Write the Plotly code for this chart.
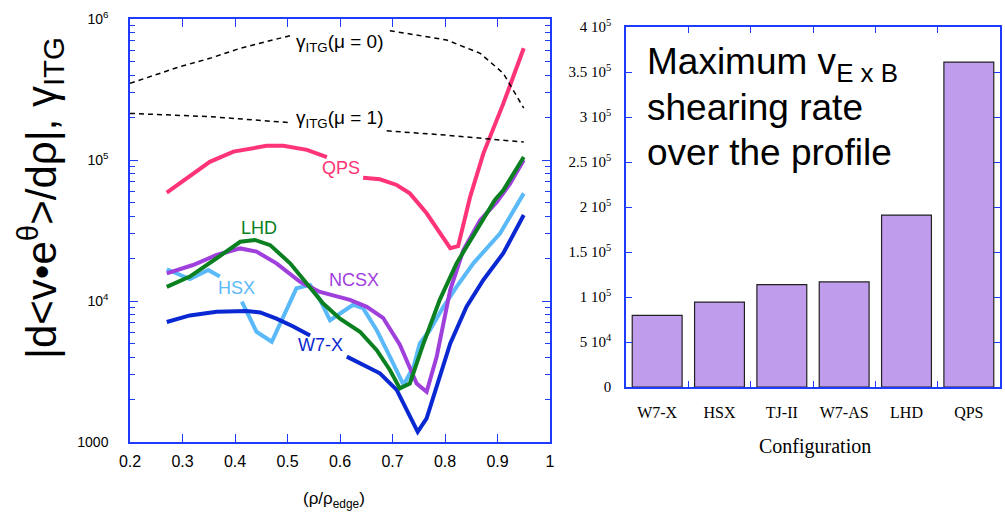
import plotly.graph_objects as go

# ---------------- data: left panel (shear-rate profiles) ----------------
qps_x = [0.27, 0.30, 0.352, 0.397, 0.46, 0.492, 0.537, 0.575, None, 0.644, 0.676, 0.708, 0.733, 0.765, 0.79, 0.81, 0.825, 0.848, 0.873, 0.911, 0.95]
qps_y = [58600, 70000, 97000, 114600, 126000, 126000, 118000, 105000, None, 74800, 73000, 66500, 58000, 41900, 30200, 23700, 24500, 55000, 111000, 251000, 620000]

lhd_x = [0.27, 0.314, 0.365, 0.41, 0.438, 0.467, 0.505, 0.537, 0.568, 0.60, 0.638, 0.67, 0.695, 0.714, 0.733, 0.759, 0.79, 0.822, 0.86, 0.895, 0.911, 0.95]
lhd_y = [12600, 14900, 20100, 26300, 27100, 24900, 18500, 13400, 9600, 7500, 6050, 4480, 3240, 2400, 2600, 5000, 10200, 18500, 31900, 52000, 61000, 105000]

ncsx_x = [0.27, 0.32, 0.365, 0.41, 0.441, 0.479, 0.524, 0.562, 0.619, 0.651, 0.682, 0.714, 0.746, 0.765, 0.784, 0.81, 0.835, 0.867, 0.898, 0.924, 0.95]
ncsx_y = [15700, 18000, 21200, 23600, 22400, 18500, 13700, 11600, 10200, 9100, 7600, 4900, 2600, 2270, 4000, 12000, 23000, 37500, 50000, 68000, 100000]

hsx_x = [0.27, 0.314, 0.349, 0.371, None, 0.413, 0.441, 0.47, 0.517, 0.543, 0.562, 0.581, 0.60, 0.625, 0.644, 0.67, 0.695, 0.721, 0.74, 0.752, 0.771, 0.797, 0.822, 0.854, 0.905, 0.95]
hsx_y = [16800, 14300, 16600, 14900, None, 9900, 6050, 5140, 12300, 13000, 10200, 7300, 8200, 9400, 8900, 6200, 4030, 2540, 3420, 5000, 6200, 9100, 12600, 18500, 30200, 58000]

w7x_x = [0.27, 0.314, 0.365, 0.422, 0.448, 0.479, 0.511, 0.543, None, 0.613, 0.638, 0.676, 0.708, 0.727, 0.748, 0.765, 0.784, 0.81, 0.841, 0.873, 0.911, 0.95]
w7x_y = [7100, 7900, 8400, 8500, 8300, 7500, 6600, 5700, None, 4030, 3600, 3070, 2340, 1690, 1180, 1470, 2470, 5000, 9100, 14100, 21800, 40700]

itg0_x = [0.2, 0.295, 0.352, 0.41, 0.505, None, 0.695, 0.803, 0.867, 0.911, 0.95]
itg0_y = [350000, 459000, 526000, 620000, 762000, None, 826000, 710000, 571000, 412000, 233000]

itg1_x = [0.2, 0.352, 0.505, None, 0.689, 0.803, 0.95]
itg1_y = [214000, 203000, 184000, None, 161000, 150000, 134000]

x_ticks = [0.2, 0.3, 0.4, 0.5, 0.6, 0.7, 0.8, 0.9, 1.0]
x_ticklabels = ["0.2", "0.3", "0.4", "0.5", "0.6", "0.7", "0.8", "0.9", "1"]
y_ticks = [1e3, 1e4, 1e5, 1e6]
y_ticklabels = ["1000", "10<sup>4</sup>", "10<sup>5</sup>", "10<sup>6</sup>"]

# ---------------- data: right panel (max shearing rate) ----------------
configs = ["W7-X", "HSX", "TJ-II", "W7-AS", "LHD", "QPS"]
max_shear = [79600, 94400, 113700, 116700, 191000, 361000]
bar_yticks = [0, 50000, 100000, 150000, 200000, 250000, 300000, 350000, 400000]
bar_yticklabels = ["0", "5 10<sup>4</sup>", "1 10<sup>5</sup>", "1.5 10<sup>5</sup>", "2 10<sup>5</sup>",
                   "2.5 10<sup>5</sup>", "3 10<sup>5</sup>", "3.5 10<sup>5</sup>", "4 10<sup>5</sup>"]

# ---------------- styling ----------------
W, H = 1005, 522
AX = "#1E3CFF"
SANS = "Liberation Sans, Arial, Helvetica, sans-serif"
SERIF = "Liberation Serif, Times New Roman, serif"
C_QPS, C_LHD, C_NCSX, C_HSX, C_W7X = "#FF3377", "#0A8020", "#A040DC", "#5AB9F8", "#0A28D2"


def px_x(p):
    return p / W


def px_y(p):
    return (H - p) / H


fig = go.Figure()

for xs, ys, col in [(qps_x, qps_y, C_QPS), (hsx_x, hsx_y, C_HSX), (w7x_x, w7x_y, C_W7X),
                    (ncsx_x, ncsx_y, C_NCSX), (lhd_x, lhd_y, C_LHD)]:
    fig.add_trace(go.Scatter(x=xs, y=ys, mode="lines", line=dict(color=col, width=4),
                             connectgaps=False, showlegend=False, xaxis="x", yaxis="y"))

for xs, ys in [(itg0_x, itg0_y), (itg1_x, itg1_y)]:
    fig.add_trace(go.Scatter(x=xs, y=ys, mode="lines", line=dict(color="black", width=1.5, dash="5px,4px"),
                             connectgaps=False, showlegend=False, xaxis="x", yaxis="y"))

fig.add_trace(go.Bar(x=list(range(len(configs))), y=max_shear, width=0.8,
                     marker=dict(color="#C09CEC", line=dict(color="#222222", width=1.2)),
                     showlegend=False, xaxis="x2", yaxis="y2"))

minor_log = [m * 10 ** e for e in (3, 4, 5) for m in range(2, 10)]

fig.update_layout(
    width=W, height=H,
    margin=dict(l=0, r=0, t=0, b=0, pad=0, autoexpand=False),
    paper_bgcolor="white", plot_bgcolor="white",
    font=dict(family=SANS, color="black"),
    xaxis=dict(domain=[px_x(130), px_x(550)], range=[0.2, 1.0], tickvals=x_ticks, ticktext=x_ticklabels,
               ticks="inside", ticklen=8, tickcolor=AX, tickwidth=1.2, mirror="ticks", automargin=False,
               showline=True, linecolor=AX, linewidth=1.5, showgrid=False, zeroline=False,
               tickfont=dict(size=16, family=SANS), ticklabelstandoff=4),
    yaxis=dict(domain=[px_y(442), px_y(19)], type="log", range=[3, 6], tickvals=y_ticks, ticktext=y_ticklabels,
               ticks="inside", ticklen=8, tickcolor=AX, tickwidth=1.2, mirror="ticks", automargin=False,
               showline=True, linecolor=AX, linewidth=1.5, showgrid=False, zeroline=False,
               tickfont=dict(size=14, family=SANS), ticklabelstandoff=17,
               minor=dict(tickvals=minor_log, ticks="inside", ticklen=5, tickcolor=AX, tickwidth=1.2, showgrid=False)),
    xaxis2=dict(domain=[px_x(626), px_x(1000)], range=[-0.5, 5.5], tickvals=list(range(len(configs))), ticktext=configs,
                ticks="", mirror="ticks", showline=True, linecolor=AX, linewidth=1.5, showgrid=False, zeroline=False,
                tickfont=dict(size=16, family=SERIF), ticklabelstandoff=10, automargin=False,
                minor=dict(tickvals=[0.5, 1.5, 2.5, 3.5, 4.5], ticks="inside", ticklen=6, tickcolor=AX, tickwidth=1.2,
                           showgrid=False),
                anchor="y2"),
    yaxis2=dict(domain=[px_y(387), px_y(27)], range=[0, 400000], tickvals=bar_yticks, ticktext=bar_yticklabels,
                ticks="inside", ticklen=6, tickcolor=AX, tickwidth=1.2, mirror="ticks", automargin=False,
                showline=True, linecolor=AX, linewidth=1.5, showgrid=False, zeroline=False,
                tickfont=dict(size=15, family=SERIF), ticklabelstandoff=10, anchor="x2"),
)

ann = []
# curve labels
for txt, x, y, col in [("QPS", 0.602, 4.943, C_QPS), ("LHD", 0.445, 4.518, C_LHD), ("HSX", 0.402, 4.092, C_HSX),
                       ("NCSX", 0.627, 4.149, C_NCSX), ("W7-X", 0.562, 3.688, C_W7X)]:
    ann.append(dict(x=x, y=y, xref="x", yref="y", text=txt, showarrow=False, xanchor="center", yanchor="middle",
                    font=dict(size=18, color=col, family=SANS)))
for txt, y in [("γ<sub>ITG</sub>(μ = 0)", 5.83), ("γ<sub>ITG</sub>(μ = 1)", 5.29)]:
    ann.append(dict(x=0.6, y=y, xref="x", yref="y", text=txt, showarrow=False, xanchor="center", yanchor="middle",
                    font=dict(size=19, color="black", family=SANS)))
# y title
ann.append(dict(x=px_x(40), y=px_y(198), xref="paper", yref="paper", textangle=-90, showarrow=False,
                xanchor="center", yanchor="middle",
                text="|d<v•e<sup>θ</sup>>/dρ|, γ<sub>ITG</sub>", font=dict(size=42, family=SANS)))
# x title
ann.append(dict(x=px_x(334), y=px_y(500), xref="paper", yref="paper", showarrow=False,
                xanchor="center", yanchor="middle",
                text="(ρ/ρ<sub>edge</sub>)", font=dict(size=17, family=SANS)))
# right panel title
ann.append(dict(x=px_x(815), y=px_y(446), xref="paper", yref="paper", showarrow=False,
                xanchor="center", yanchor="middle",
                text="Configuration", font=dict(size=20, family=SERIF)))
for txt, yc in [("Maximum v<sub>E x B</sub>", 64), ("shearing rate", 108), ("over the profile", 152)]:
    ann.append(dict(x=px_x(645), y=px_y(yc), xref="paper", yref="paper", xanchor="left", yanchor="middle",
                    showarrow=False, text=txt, font=dict(size=37, family=SANS)))

fig.update_layout(annotations=ann)

fig.write_html("out.html")
